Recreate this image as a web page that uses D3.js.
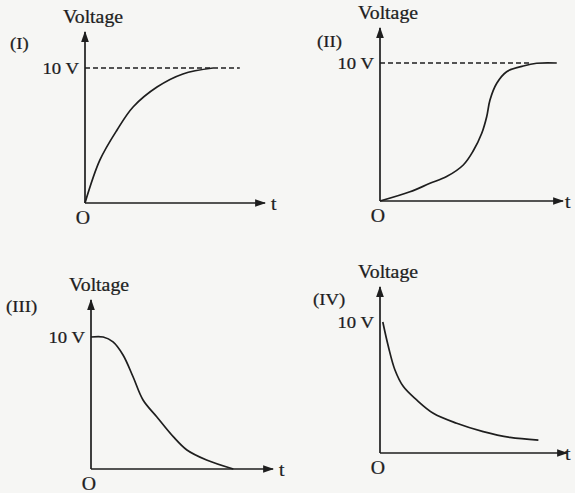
<!DOCTYPE html>
<html>
<head>
<meta charset="utf-8">
<script src="https://cdn.jsdelivr.net/npm/d3@7"></script>
<style>
  body { margin: 0; background: #f6f6f4; }
  svg { display: block; }
  text { font-family: "Liberation Serif", "Times New Roman", serif; fill: #1e1e1e; stroke: #1e1e1e; stroke-width: 0.25; }
</style>
</head>
<body>
<div id="bigdiv"></div>
<script>
// curves: t in arbitrary units, voltage in volts
const tI = [0, 0.83, 1.78, 2.67, 4.0, 5.44, 7.11]
const vI = [0, 3.19, 5.41, 7.11, 8.59, 9.56, 10]

const tII = [0, 1.64, 2.73, 3.64, 4.55, 5.09, 5.56, 5.83, 6.01, 6.38, 6.92, 7.83, 8.56, 9.66]
const vII = [0, 0.67, 1.28, 1.77, 2.61, 3.62, 4.91, 6.11, 7.32, 8.53, 9.37, 9.78, 9.98, 10]

const tIII = [0, 0.67, 1.21, 1.76, 2.31, 2.86, 3.61, 4.52, 5.27, 6.35, 7.82]
const vIII = [10, 10, 9.63, 8.64, 6.99, 5.23, 3.96, 2.45, 1.44, 0.68, 0]

const tIV = [0.15, 0.45, 0.80, 1.25, 1.96, 2.85, 4.10, 5.52, 6.95, 8.47]
const vIV = [10, 8.11, 6.34, 5.07, 4.05, 3.03, 2.27, 1.63, 1.19, 0.99]

const panelNames = ['(I)', '(II)', '(III)', '(IV)']
const dashedEnd = [8.6, 8.3, null, null]   // t where the 10 V guide stops
const yLabel = 'Voltage'
const xLabel = 't'
const levelLabel = '10 V'

// placement of each small plot on the page
const layout = [
    { x0: 85, y0: 203, xTip: 265, yTop: 32, y10: 68, nameX: 10, nameY: 49 },
    { x0: 380, y0: 201, xTip: 563, yTop: 28, y10: 63, nameX: 317, nameY: 47 },
    { x0: 91, y0: 469, xTip: 273, yTop: 300, y10: 337, nameX: 6, nameY: 312 },
    { x0: 380, y0: 453, xTip: 567, yTop: 287, y10: 322, nameX: 313, nameY: 305 }
]

const curves = [[tI, vI], [tII, vII], [tIII, vIII], [tIV, vIV]]

const ink = '#1e1e1e'

let svg = d3.select('div#bigdiv').append('svg')
    .attr('width', 575).attr('height', 493)

svg.append('defs').append('marker')
    .attr('id', 'arrow')
    .attr('viewBox', '0 0 10 10')
    .attr('refX', 9).attr('refY', 5)
    .attr('markerWidth', 11).attr('markerHeight', 11)
    .attr('markerUnits', 'userSpaceOnUse')
    .attr('orient', 'auto')
    .append('path')
    .attr('d', 'M0,1.5 L10,5 L0,8.5 Z')
    .attr('fill', ink)

// scanned lettering is a bit wider than the font, so stretch it sideways
function label(g, str, x, y, size, anchor) {
    g.append('text')
        .attr('transform', 'translate(' + x + ',' + y + ') scale(1.1,1)')
        .attr('text-anchor', anchor || 'start')
        .attr('font-size', size)
        .text(str)
}

curves.forEach((c, i) => {
    let L = layout[i]
    let x = d3.scaleLinear().domain([0, 10]).range([L.x0, L.xTip])
    let y = d3.scaleLinear().domain([0, 10]).range([L.y0, L.y10])
    let g = svg.append('g').attr('class', 'panel')

    // axes with arrow heads
    g.append('line')
        .attr('x1', x(0)).attr('y1', y(0)).attr('x2', L.xTip).attr('y2', y(0))
        .attr('stroke', ink).attr('stroke-width', 1.7)
        .attr('marker-end', 'url(#arrow)')
    g.append('line')
        .attr('x1', x(0)).attr('y1', y(0)).attr('x2', x(0)).attr('y2', L.yTop)
        .attr('stroke', ink).attr('stroke-width', 1.7)
        .attr('marker-end', 'url(#arrow)')

    // 10 V guide
    if (dashedEnd[i] !== null) {
        g.append('line')
            .attr('x1', x(0)).attr('y1', y(10)).attr('x2', x(dashedEnd[i])).attr('y2', y(10))
            .attr('stroke', ink).attr('stroke-width', 1.4)
            .attr('stroke-dasharray', '5,3')
    }

    let pts = c[0].map((t, k) => [t, c[1][k]])
    let line = d3.line()
        .x(d => x(d[0])).y(d => y(d[1]))
        .curve(d3.curveCatmullRom.alpha(0.5))
    g.append('path')
        .attr('d', line(pts))
        .attr('fill', 'none').attr('stroke', ink).attr('stroke-width', 1.7)

    // labels
    label(g, yLabel, x(0) - 22, L.yTop - 9, 18)
    label(g, panelNames[i], L.nameX, L.nameY, 17)
    label(g, levelLabel, x(0) - 6, y(10) + 6, 17, 'end')
    label(g, 'O', x(0) - 2, y(0) + 21, 18, 'middle')
    label(g, xLabel, Math.min(L.xTip + 6, 565), y(0) + 7, 18)
})
</script>
</body>
</html>
